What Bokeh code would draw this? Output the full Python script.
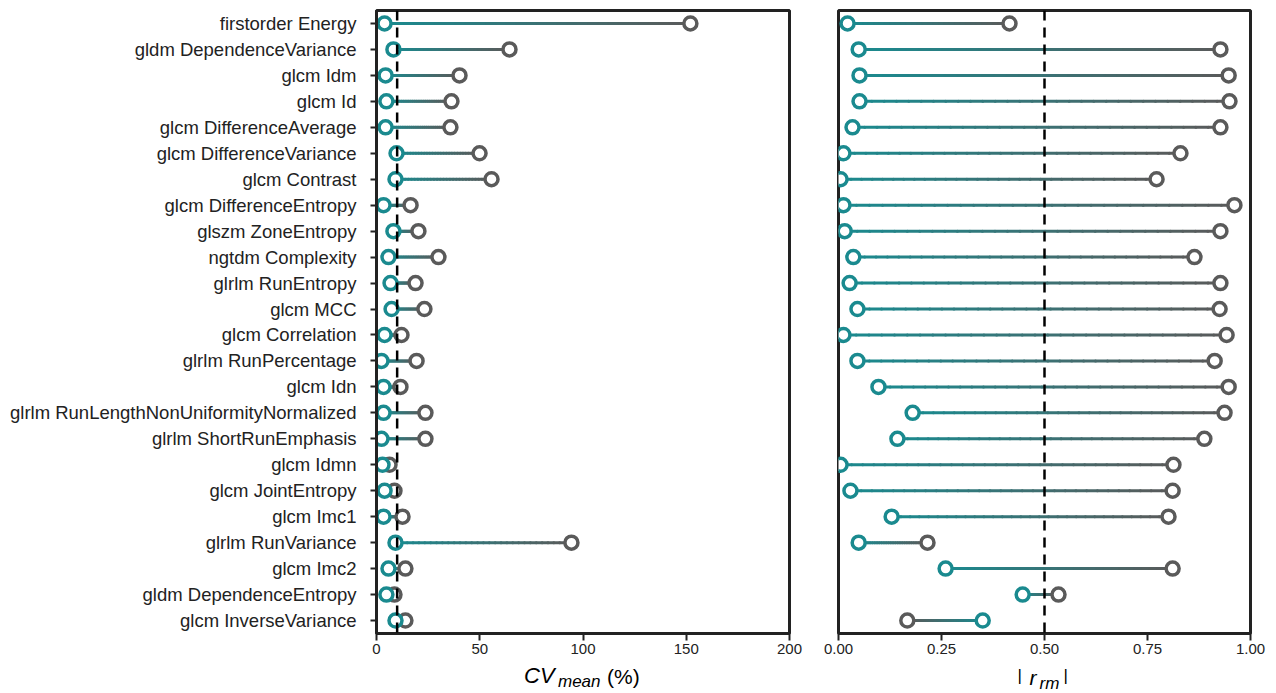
import numpy as np
from bokeh.plotting import figure
from bokeh.layouts import row, column
from bokeh.models import Span, Label, FixedTicker, ColumnDataSource
from bokeh.embed import file_html
from bokeh.resources import INLINE

features = [
    "firstorder Energy", "gldm DependenceVariance", "glcm Idm", "glcm Id",
    "glcm DifferenceAverage", "glcm DifferenceVariance", "glcm Contrast",
    "glcm DifferenceEntropy", "glszm ZoneEntropy", "ngtdm Complexity",
    "glrlm RunEntropy", "glcm MCC", "glcm Correlation", "glrlm RunPercentage",
    "glcm Idn", "glrlm RunLengthNonUniformityNormalized", "glrlm ShortRunEmphasis",
    "glcm Idmn", "glcm JointEntropy", "glcm Imc1", "glrlm RunVariance",
    "glcm Imc2", "gldm DependenceEntropy", "glcm InverseVariance",
]
cv_teal = [3.9, 8.2, 4.4, 4.8, 4.4, 9.7, 9.2, 3.4, 8.2, 5.8, 6.8, 7.3, 3.9, 2.4,
           3.4, 3.4, 2.4, 2.9, 3.9, 3.4, 9.2, 5.8, 4.8, 9.2]
cv_gray = [152.0, 64.4, 40.2, 36.3, 35.8, 49.9, 55.7, 16.5, 20.3, 30.0, 18.9, 23.2,
           12.1, 19.4, 11.6, 23.7, 23.7, 6.3, 8.7, 12.6, 94.4, 14.0, 8.7, 14.0]
r_teal = [0.022, 0.049, 0.051, 0.051, 0.034, 0.012, 0.005, 0.012, 0.015, 0.036,
          0.027, 0.046, 0.012, 0.046, 0.097, 0.180, 0.143, 0.005, 0.029, 0.129,
          0.049, 0.260, 0.447, 0.350]
r_gray = [0.415, 0.927, 0.947, 0.949, 0.927, 0.830, 0.772, 0.961, 0.927, 0.864,
          0.927, 0.925, 0.942, 0.913, 0.947, 0.937, 0.888, 0.813, 0.811, 0.801,
          0.216, 0.811, 0.534, 0.167]
cv_ticks = [0, 50, 100, 150, 200]
r_ticks = [0, 0.25, 0.5, 0.75, 1.0]

TEAL = (26, 138, 143)
GRAY = (90, 90, 90)
FONT = "Liberation Sans"
DARK = "#222222"
BOTTOM = 29          # border under the main frames (tick labels)
LABEL_H = 693 - 10 - 623 - BOTTOM


def hexc(c):
    return "#%02x%02x%02x" % tuple(int(round(v)) for v in c)


def make_fig(teal, gray, x_end, ticks, tick_fmt, ref, show_y, border_left, border_right, fwidth):
    p = figure(y_range=list(reversed(features)), x_range=(0, x_end),
               frame_width=fwidth, frame_height=623,
               min_border_left=border_left, min_border_right=border_right,
               min_border_top=10, min_border_bottom=BOTTOM,
               output_backend="svg", toolbar_location=None)
    p.xgrid.visible = False
    p.ygrid.visible = False
    p.outline_line_color = DARK
    p.outline_line_width = 3
    p.outline_line_alpha = 1
    p.background_fill_color = "white"
    p.border_fill_color = "white"

    p.xaxis.axis_label = None
    p.xaxis.ticker = FixedTicker(ticks=ticks)
    p.xaxis.major_label_overrides = {t: tick_fmt(t) for t in ticks}
    p.xaxis.minor_tick_line_color = None
    p.xaxis.minor_tick_out = 0
    p.xaxis.major_tick_out = 7
    p.xaxis.major_tick_in = 0
    p.xaxis.major_tick_line_width = 2
    p.xaxis.major_tick_line_color = DARK
    p.xaxis.axis_line_color = DARK
    p.xaxis.axis_line_width = 3
    p.xaxis.major_label_text_font = FONT
    p.xaxis.major_label_text_font_size = "15px"
    p.xaxis.major_label_text_color = DARK
    p.xaxis.major_label_standoff = 3

    if show_y:
        p.yaxis.major_tick_out = 6
        p.yaxis.major_tick_in = 0
        p.yaxis.major_tick_line_width = 2
        p.yaxis.major_tick_line_color = DARK
        p.yaxis.axis_line_color = DARK
        p.yaxis.axis_line_width = 3
        p.yaxis.major_label_text_font = FONT
        p.yaxis.major_label_text_font_size = "18.5px"
        p.yaxis.major_label_text_color = DARK
        p.yaxis.major_label_standoff = 14
    else:
        p.yaxis.visible = False

    p.add_layout(Span(location=ref, dimension="height", line_color="black",
                      line_width=2.5, line_dash="10 7"))

    # gradient stems: split each stem into short pieces coloured teal -> gray
    n = 30
    x0s, x1s, ys, cols = [], [], [], []
    for f, a, b in zip(features, teal, gray):
        edges = np.linspace(a, b, n + 1)
        for k in range(n):
            t = (k + 0.5) / n
            c = tuple(TEAL[i] * (1 - t) + GRAY[i] * t for i in range(3))
            x0s.append(edges[k])
            x1s.append(edges[k + 1])
            ys.append(f)
            cols.append(hexc(c))
    src = ColumnDataSource(dict(x0=x0s, x1=x1s, y=ys, c=cols))
    p.segment(x0="x0", y0="y", x1="x1", y1="y", source=src, line_color="c",
              line_width=3, line_cap="round")

    p.scatter(gray, features, size=13, fill_color="white", line_color=hexc(GRAY),
              line_width=3.5)
    p.scatter(teal, features, size=13, fill_color="white", line_color=hexc(TEAL),
              line_width=3.5)
    return p


def label_fig(x_range, border_left, border_right, fwidth):
    q = figure(x_range=x_range, y_range=(0, LABEL_H), frame_width=fwidth,
               frame_height=LABEL_H,
               min_border_left=border_left, min_border_right=border_right,
               min_border_top=0, min_border_bottom=0, title=None,
               x_axis_location=None, y_axis_location=None,
               output_backend="svg", toolbar_location=None)
    q.xgrid.visible = False
    q.ygrid.visible = False
    q.outline_line_color = None
    q.background_fill_color = "white"
    q.border_fill_color = "white"
    return q


p1 = make_fig(cv_teal, cv_gray, 200, cv_ticks, lambda t: str(t),
              10, True, 376, 24, 413)
p2 = make_fig(r_teal, r_gray, 1.0, r_ticks, lambda t: "%.2f" % t,
              0.5, False, 25, 26, 412)
l1 = label_fig(p1.x_range, 376, 24, 413)
l2 = label_fig(p2.x_range, 25, 26, 412)

# y below is measured in pixels up from the bottom of the window
common = dict(text_font=FONT, text_color="black", text_baseline="middle",
              text_align="left")
# CV_mean (%)
l1.add_layout(Label(x=100, y=18, x_offset=-59, text="CV", text_font_size="22px",
                    text_font_style="italic", **common))
l1.add_layout(Label(x=100, y=12, x_offset=-25, text="mean", text_font_size="17px",
                    text_font_style="italic", **common))
l1.add_layout(Label(x=100, y=17, x_offset=24, text="(%)", text_font_size="21px",
                    **common))
# | r_rm |
l2.add_layout(Label(x=0.5, y=18, x_offset=-27, text="|", text_font_size="17px",
                    **common))
l2.add_layout(Label(x=0.5, y=16, x_offset=-15, text="r", text_font_size="21px",
                    text_font_style="italic", **common))
l2.add_layout(Label(x=0.5, y=10, x_offset=-5, text="rm", text_font_size="17px",
                    text_font_style="italic", **common))
l2.add_layout(Label(x=0.5, y=18, x_offset=19, text="|", text_font_size="17px",
                    **common))

layout = row(column(p1, l1, spacing=0), column(p2, l2, spacing=0), spacing=0)
open("out.html", "w").write(file_html(layout, INLINE))
